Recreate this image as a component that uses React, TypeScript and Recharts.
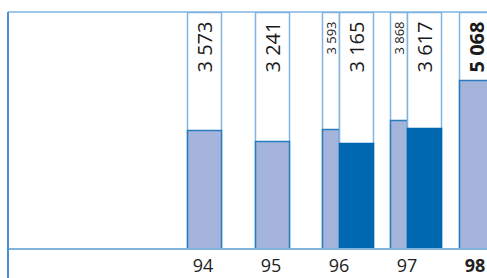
import { Bar, BarChart, ReferenceLine, XAxis, YAxis } from "recharts";

const years = ["94", "95", "96", "97", "98"];
const lightWide = [3573, 3241, null, null, 5068];
const lightNarrow = [null, null, 3593, 3868, null];
const darkWide = [null, null, 3165, 3617, null];
const darkZero = [0, 0, null, null, 0];
const highlightYear = "98";
const yMax = 7100;

const data = years.map((year, i) => ({
  year,
  lightWide: lightWide[i],
  lightNarrow: lightNarrow[i],
  darkWide: darkWide[i],
  darkZero: darkZero[i],
  spacer: null,
}));

const FRAME = "#80b5e0";
const LAVENDER = "#a4b4da";
const EDGE = "#2a7cc0";
const DARK = "#0067b1";
const FONT = "'Open Sans', sans-serif";

const fmt = (v: number) => {
  const s = String(v);
  return s.length > 3 ? `${s.slice(0, -3)} ${s.slice(-3)}` : s;
};

const makeShape =
  (key: string, fill: string, edge: string, fontSize: number) =>
  (props: any) => {
    const { y, width, height, background, payload } = props;
    const value = payload?.[key];
    if (value == null || !background) return <g />;
    const bx = Math.round(background.x) + 0.5;
    const bt = Math.round(background.y) + 0.5;
    const bw = Math.round(width);
    const bh = Math.round(background.height);
    const top = Math.round(y) + 0.5;
    const h = Math.round(height);
    const bold = payload.year === highlightYear;
    const tx = bx + bw / 2 + fontSize * 0.36;
    const ty = bt + 9;
    return (
      <g>
        <rect x={bx} y={bt} width={bw} height={bh} fill="#fff" stroke={FRAME} strokeWidth={1.5} />
        <rect x={bx} y={top} width={bw} height={h} fill={fill} stroke={edge} strokeWidth={1.5} />
        <text
          x={tx}
          y={ty}
          transform={`rotate(-90 ${tx} ${ty})`}
          textAnchor="end"
          fontSize={fontSize}
          fontWeight={bold ? 700 : 400}
          fontFamily={FONT}
          fill="#1a1a1a"
        >
          {fmt(value)}
        </text>
      </g>
    );
  };

// zero-height bars only show as a darker piece of the baseline
const zeroShape = (props: any) => {
  const { x, y, width, height, payload } = props;
  if (payload?.darkZero == null) return <g />;
  const base = Math.round(y + (height || 0));
  return <line x1={x} x2={x + width} y1={base} y2={base} stroke={EDGE} strokeWidth={2} />;
};

const YearTick = ({ x, y, payload }: any) => (
  <text
    x={x}
    y={y + 15}
    textAnchor="middle"
    fontSize={18}
    fontFamily={FONT}
    fontWeight={payload.value === highlightYear ? 700 : 400}
    fill="#222"
  >
    {payload.value}
  </text>
);

export default function App() {
  return (
    <div
      style={{
        position: "fixed",
        top: 0,
        left: 0,
        width: 487,
        height: 278,
        overflow: "hidden",
        background: "#fff",
      }}
    >
      <BarChart
        width={509}
        height={278}
        data={data}
        margin={{ top: 12, right: 0, left: 8, bottom: 0 }}
        barCategoryGap={0}
        barGap={0}
      >
        <XAxis
          dataKey="year"
          height={29}
          padding={{ left: 161, right: 0 }}
          axisLine={{ stroke: FRAME, strokeWidth: 2 }}
          tickLine={false}
          tick={<YearTick />}
          interval={0}
        />
        <XAxis xAxisId="alt" dataKey="year" hide height={0} padding={{ left: 161, right: 0 }} />
        <YAxis hide width={0} domain={[0, yMax]} allowDataOverflow />
        <ReferenceLine y={yMax} stroke={FRAME} strokeWidth={1.5} />
        <Bar
          dataKey="darkZero"
          barSize={17}
          minPointSize={0}
          shape={zeroShape}
          isAnimationActive={false}
        />
        <Bar
          dataKey="lightWide"
          barSize={34}
          shape={makeShape("lightWide", LAVENDER, EDGE, 20)}
          isAnimationActive={false}
        />
        <Bar dataKey="spacer" barSize={16} isAnimationActive={false} />
        <Bar xAxisId="alt" dataKey="spacer" barSize={17} isAnimationActive={false} />
        <Bar
          xAxisId="alt"
          dataKey="lightNarrow"
          barSize={17}
          shape={makeShape("lightNarrow", LAVENDER, EDGE, 13)}
          isAnimationActive={false}
        />
        <Bar
          xAxisId="alt"
          dataKey="darkWide"
          barSize={33.9}
          shape={makeShape("darkWide", DARK, DARK, 20)}
          isAnimationActive={false}
        />
      </BarChart>
      <div
        style={{
          position: "absolute",
          left: 7,
          top: 12,
          width: 2,
          height: 266,
          background: "#4a90d0",
        }}
      />
    </div>
  );
}
